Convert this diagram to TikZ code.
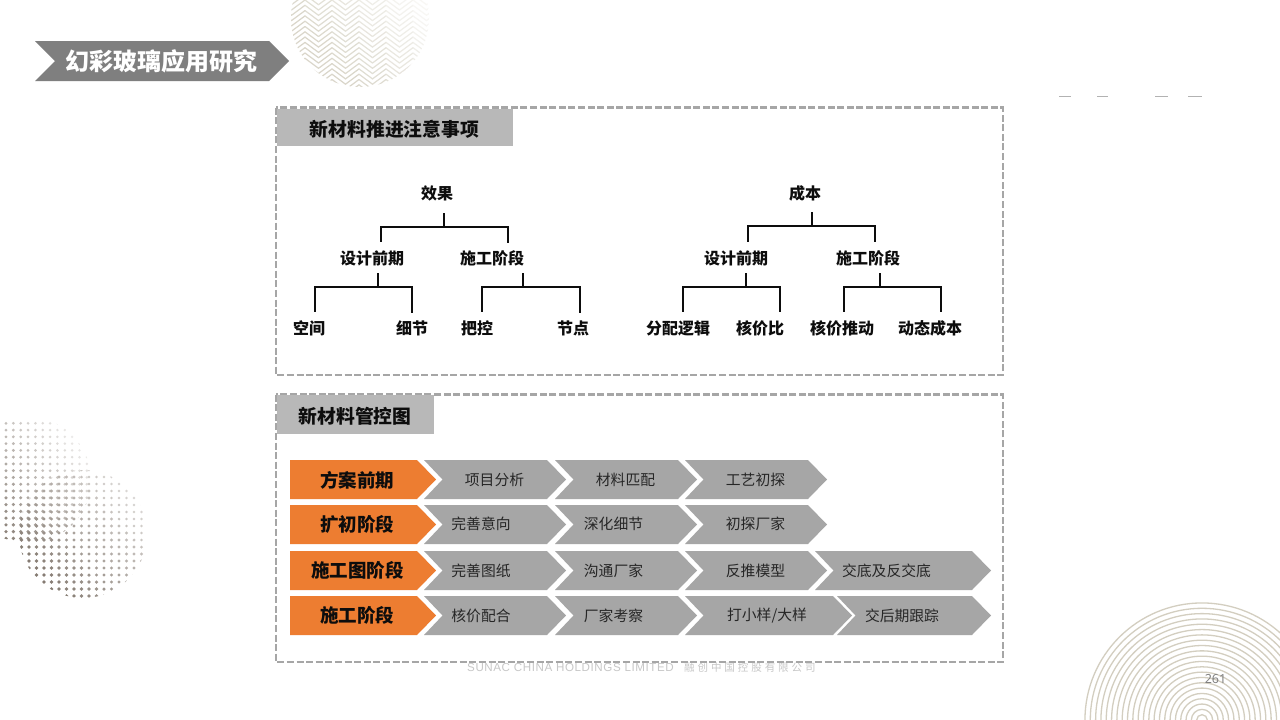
\documentclass[tikz,border=0pt]{standalone}
\usepackage{fontspec}
\setmainfont{Noto Sans CJK SC}
\newfontfamily\latinfoot[LetterSpace=5]{Liberation Sans}
\newfontfamily\cjkfoot[LetterSpace=28]{Noto Sans CJK SC}
\newfontfamily\pagefont{Noto Sans}
\usetikzlibrary{calc}
\definecolor{bannergray}{HTML}{7F7F7F}
\definecolor{headgray}{HTML}{B8B8B8}
\definecolor{framegray}{HTML}{A6A6A6}
\definecolor{chevgray}{HTML}{A6A6A6}
\definecolor{chevorange}{HTML}{ED7D31}
\definecolor{ink}{HTML}{0D0D0D}
\definecolor{softink}{HTML}{262626}
\definecolor{ringc}{HTML}{D3CEC0}
\definecolor{dotc}{HTML}{857B72}
\definecolor{zigc}{HTML}{CDC9B8}
\newcommand{\fs}[1]{\fontsize{#1}{#1}\selectfont}
\tikzset{
  x=1pt,y=-1pt,
  frame/.style={draw=framegray,line width=2.5pt,dash pattern=on 7pt off 2.6pt},
  treelabel/.style={inner sep=0pt,minimum height=20pt,text=ink,font=\fs{16}\bfseries},
  tree/.style={draw=ink,line width=1.9pt},
  headbox/.style={inner sep=0pt,text=ink,font=\fs{18.8}\bfseries},
  graytext/.style={inner sep=0pt,text=softink,font=\fs{14.8}},
  orangetext/.style={inner sep=0pt,text=ink,font=\fs{18.5}\bfseries},
}
% style, x-left, x-notch, x-shoulder, x-tip, y-top, y-bottom
\newcommand{\chevshape}[7]{\fill[#1] (#2,#6)--(#4,#6)--(#5,{(#6+#7)/2})--(#4,#7)--(#2,#7)--(#3,{(#6+#7)/2})--cycle;}
\newcommand{\rowchev}[4]{% y-top, y-bot, g3 shoulder, g3 tip
  \chevshape{chevorange}{290}{290}{417}{436}{#1}{#2}
  \chevshape{chevgray}{424}{442.5}{547}{566}{#1}{#2}
  \chevshape{chevgray}{555}{573.5}{678}{697}{#1}{#2}
  \chevshape{chevgray}{685}{703.5}{#3}{#4}{#1}{#2}
}
\begin{document}
\begin{tikzpicture}
\useasboundingbox (0,0) rectangle (1280,720);
\fill[white] (0,0) rectangle (1280,720);

% zigzag disc
\begin{scope}
\clip (360,18) circle (69);
\foreach \row in {-11,...,18}{
  \foreach \k in {0,...,12}{
    \pgfmathsetmacro{\xa}{278+13.5*\k}
    \pgfmathsetmacro{\xb}{\xa+13.5}
    \pgfmathsetmacro{\ya}{\row*5.3+10*mod(\k,2)}
    \pgfmathsetmacro{\yb}{\row*5.3+10*mod(\k+1,2)}
    \pgfmathtruncatemacro{\st}{max(15,min(75,75-0.45*(\xa-291)+0.4*(\ya-20)))}
    \draw[zigc!\st!white,line width=1.2pt,line cap=round] (\xa,\ya)--(\xb,\yb);
  }
}
\end{scope}

% dot discs
\begin{scope}
\clip (28,480) circle (63);
\foreach \c in {0,...,13}{\foreach \r in {0,...,17}{
  \pgfmathsetmacro{\xx}{6+7.35*\c}
  \pgfmathsetmacro{\yy}{423.3+6.77*\r}
  \pgfmathsetmacro{\sv}{max(0.14,1-0.5*\xx/90-0.5*(540-\yy)/120)}
  \pgfmathtruncatemacro{\st}{100*\sv}
  \fill[dotc!\st!white] (\xx,\yy) circle ({1.2+0.7*\sv});
}}
\end{scope}
\begin{scope}
\clip (83,534) circle (64);
\foreach \c in {0,...,17}{\foreach \r in {0,...,18}{
  \pgfmathsetmacro{\xx}{21.5+7.5*\c}
  \pgfmathsetmacro{\yy}{470+7*\r}
  \pgfmathsetmacro{\sv}{min(1,max(0.14,1.2-0.55*(\xx-20)/127-0.5*(600-\yy)/130))}
  \pgfmathtruncatemacro{\st}{100*\sv}
  \fill[dotc!\st!white] (\xx,\yy) circle ({1.15+0.75*\sv});
}}
\end{scope}

% concentric rings
\begin{scope}
\clip (1060,590) rectangle (1280,720);
\foreach \r in {1,...,22}{\draw[ringc,line width=1.3pt] (1202,720) circle ({\r*5.32});}
\end{scope}

% clipped remnants at the top right
\foreach \a/\b in {1059/1071,1097/1108,1155/1168,1188/1202}{
  \draw[black!30,line width=0.7pt] (\a,96.5)--(\b,96.5);
}

% footer and page number
\node[inner sep=0pt,anchor=west,text=black!22,font=\fs{11.6}] (foot) at (467,668)
  {{\latinfoot SUNAC CHINA HOLDINGS LIMITED}\hspace{5pt}{\cjkfoot\fs{10.5} 融创中国控股有限公司}};
\node[inner sep=0pt,text=black!50,font=\pagefont\fs{12.5}] (pageno) at (1215.5,679) {261};

% banner
\fill[bannergray] (35,41)--(269,41)--(289,61)--(269,81)--(35,81)--(55,61)--cycle;
\node[inner sep=0pt,text=white,font=\fs{24}\bfseries] (banner) at (161,61) {幻彩玻璃应用研究};

% frames
\draw[frame] (276,107.5) rectangle (1003,375);
\draw[frame] (276,394.5) rectangle (1003,662);
\fill[headgray] (277,108.5) rectangle (513,146);
\node[headbox] (head1) at (394.5,129.5) {新材料推进注意事项};
\fill[headgray] (277,395) rectangle (434,434);
\node[headbox] (head2) at (355,416.5) {新材料管控图};

% left tree
\node[treelabel] (eff) at (437,193) {效果};
\node[treelabel] (ld) at (372,258) {设计前期};
\node[treelabel] (lc) at (492,258) {施工阶段};
\node[treelabel] (s1) at (309,328) {空间};
\node[treelabel] (s2) at (412,328) {细节};
\node[treelabel] (s3) at (477,328) {把控};
\node[treelabel] (s4) at (573,328) {节点};
\draw[tree] ([shift={(7,10)}]eff.south) -- ++(0,13.5) -| ([shift={(8.7,-6)}]ld.north);
\draw[tree] ([shift={(7,10)}]eff.south) -- ++(0,13.5) -| ([shift={(16,-5)}]lc.north);
\draw[tree] ([shift={(6,5)}]ld.south) -- ++(0,14) -| ([shift={(6,-6)}]s1.north);
\draw[tree] ([shift={(6,5)}]ld.south) -- ++(0,14) -| ([shift={(0,-5)}]s2.north);
\draw[tree] ([shift={(30.7,5)}]lc.south) -- ++(0,14) -| ([shift={(5,-6)}]s3.north);
\draw[tree] ([shift={(30.7,5)}]lc.south) -- ++(0,14) -| ([shift={(7,-5)}]s4.north);

% right tree
\node[treelabel] (cost) at (805,193) {成本};
\node[treelabel] (rd) at (736,258) {设计前期};
\node[treelabel] (rc) at (868,258) {施工阶段};
\node[treelabel] (t1) at (678,328) {分配逻辑};
\node[treelabel] (t2) at (760,328) {核价比};
\node[treelabel] (t3) at (842,328) {核价推动};
\node[treelabel] (t4) at (930,328) {动态成本};
\draw[tree] ([shift={(7,9)}]cost.south) -- ++(0,14) -| ([shift={(12,-6)}]rd.north);
\draw[tree] ([shift={(7,9)}]cost.south) -- ++(0,14) -| ([shift={(7,-6)}]rc.north);
\draw[tree] ([shift={(10,5)}]rd.south) -- ++(0,14) -| ([shift={(5,-6)}]t1.north);
\draw[tree] ([shift={(10,5)}]rd.south) -- ++(0,14) -| ([shift={(20,-6)}]t2.north);
\draw[tree] ([shift={(12,5)}]rc.south) -- ++(0,14) -| ([shift={(2,-6)}]t3.north);
\draw[tree] ([shift={(12,5)}]rc.south) -- ++(0,14) -| ([shift={(11,-6)}]t4.north);

% chevron rows
\rowchev{460}{499}{808}{827}
\rowchev{505}{544}{808}{827}
\rowchev{551}{590}{808}{827}
\chevshape{chevgray}{815}{833.5}{972}{991}{551}{590}
\rowchev{596}{635}{833}{852}
\chevshape{chevgray}{837}{855.5}{972}{991}{596}{635}

\node[orangetext] (o1) at (357,480) {方案前期};
\node[orangetext] (o2) at (357,524.5) {扩初阶段};
\node[orangetext] (o3) at (357.5,570.5) {施工图阶段};
\node[orangetext] (o4) at (357,615.5) {施工阶段};

\node[graytext] (a1) at (494.5,479.5) {项目分析};
\node[graytext] (a2) at (625.5,479.5) {材料匹配};
\node[graytext] (a3) at (755.5,479.5) {工艺初探};
\node[graytext] (b1) at (481,524) {完善意向};
\node[graytext] (b2) at (613.5,524) {深化细节};
\node[graytext] (b3) at (755.5,524) {初探厂家};
\node[graytext] (c1) at (481,571) {完善图纸};
\node[graytext] (c2) at (613.5,571) {沟通厂家};
\node[graytext] (c3) at (755.5,571) {反推模型};
\node[graytext] (c4) at (886.5,571) {交底及反交底};
\node[graytext] (d1) at (481,615.5) {核价配合};
\node[graytext] (d2) at (613.5,615.5) {厂家考察};
\node[graytext] (d3) at (767,615.5) {打小样/大样};
\node[graytext] (d4) at (902,615.5) {交后期跟踪};
\end{tikzpicture}
\end{document}
